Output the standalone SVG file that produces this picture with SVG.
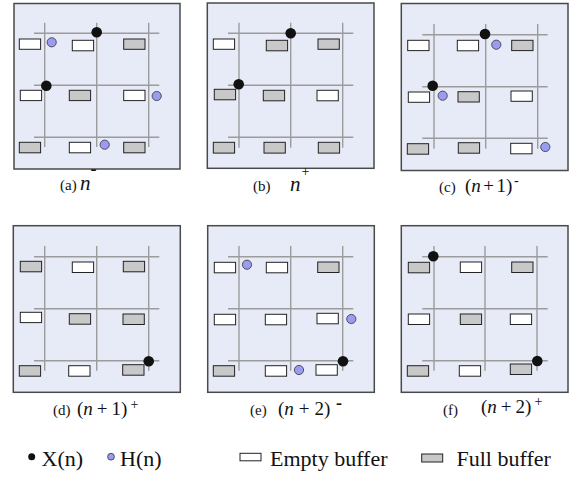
<svg xmlns="http://www.w3.org/2000/svg" width="580" height="477" viewBox="0 0 580 477">
<style>
.bg{fill:#e7ebf7;stroke:#4a4a4a;stroke-width:1.5}
.g line{stroke:#9c9c9c;stroke-width:1.4}
.e{fill:#ffffff;stroke:#222;stroke-width:1}
.f{fill:#c8c8c8;stroke:#222;stroke-width:1}
.x{fill:#111}
.h{fill:#9b9bf2;stroke:#333;stroke-width:0.8}
text{font-family:"Liberation Serif","Times New Roman",serif;fill:#111}
.lb{font-size:15px}
.m{font-size:19px}
.i{font-style:italic}
.lg{font-size:22px}
.sp{font-size:14px}
.sm{font-size:18px;font-weight:bold}
</style>

<g id="panel-a">
<rect class="bg" x="14" y="3.5" width="166" height="165.5"/>
<g class="g">
<line x1="44.7" y1="22.7" x2="44.7" y2="147"/><line x1="96.7" y1="22.7" x2="96.7" y2="147"/><line x1="148.7" y1="22.7" x2="148.7" y2="147"/>
<line x1="34" y1="33.3" x2="159.3" y2="33.3"/><line x1="34" y1="85.3" x2="159.3" y2="85.3"/><line x1="34" y1="137.3" x2="159.3" y2="137.3"/>
</g>
<rect class="e" x="19.3" y="39" width="21.3" height="10.3"/><rect class="e" x="72.3" y="40.3" width="21.3" height="10.5"/><rect class="f" x="123.7" y="39" width="21.3" height="10.3"/>
<rect class="e" x="20.3" y="90.3" width="21.3" height="10.3"/><rect class="f" x="69.3" y="90.3" width="21.3" height="10.3"/><rect class="e" x="123.7" y="90.3" width="21.3" height="10.3"/>
<rect class="f" x="19.3" y="142.3" width="21.3" height="10.5"/><rect class="e" x="69.3" y="142.3" width="21.3" height="10.5"/><rect class="f" x="123.7" y="142.3" width="21.3" height="10.5"/>
<circle class="h" cx="51.7" cy="42.3" r="4.6"/><circle class="h" cx="156.7" cy="96" r="4.6"/><circle class="h" cx="104.7" cy="144.7" r="4.6"/>
<circle class="x" cx="96.7" cy="32.3" r="5.3"/><circle class="x" cx="46.3" cy="85.7" r="5.3"/>
<text class="lb" x="60" y="190">(a)</text>
<text class="i" x="80" y="190" font-size="21">n</text>
<text class="sm" x="90.5" y="175">-</text>
</g>

<g id="panel-b">
<rect class="bg" x="207.3" y="3" width="166.7" height="165.3"/>
<g class="g">
<line x1="239" y1="22.7" x2="239" y2="147.7"/><line x1="290.7" y1="22.7" x2="290.7" y2="147.7"/><line x1="342.7" y1="22.7" x2="342.7" y2="147.7"/>
<line x1="228" y1="33.3" x2="353.3" y2="33.3"/><line x1="228" y1="85.3" x2="353.3" y2="85.3"/><line x1="228" y1="137.3" x2="353.3" y2="137.3"/>
</g>
<rect class="e" x="213.3" y="39" width="21.3" height="10.3"/><rect class="f" x="266.3" y="40.3" width="21.3" height="10.5"/><rect class="f" x="318" y="39" width="21.3" height="10.3"/>
<rect class="f" x="214.3" y="89.3" width="21.3" height="10.5"/><rect class="f" x="263.3" y="90.3" width="21.3" height="10.5"/><rect class="e" x="317" y="90.3" width="21.3" height="10.5"/>
<rect class="f" x="213.3" y="142.3" width="21.3" height="10.8"/><rect class="f" x="264" y="142.3" width="21.3" height="10.8"/><rect class="f" x="318.3" y="142.3" width="21.3" height="10.8"/>
<circle class="x" cx="290.7" cy="33.3" r="5.3"/><circle class="x" cx="238.7" cy="84.3" r="5.3"/>
<text class="lb" x="253" y="191">(b)</text>
<text class="i" x="290" y="191" font-size="21">n</text>
<text class="sp" x="301.5" y="175.5">+</text>
</g>

<g id="panel-c">
<rect class="bg" x="401.3" y="3.5" width="166.7" height="167"/>
<g class="g">
<line x1="434" y1="24" x2="434" y2="148.7"/><line x1="485.7" y1="24" x2="485.7" y2="148.7"/><line x1="537.7" y1="24" x2="537.7" y2="148.7"/>
<line x1="422.3" y1="34.7" x2="547.7" y2="34.7"/><line x1="422.3" y1="86.7" x2="547.7" y2="86.7"/><line x1="422.3" y1="138.3" x2="547.7" y2="138.3"/>
</g>
<rect class="e" x="407.7" y="40.3" width="21.3" height="10.3"/><rect class="e" x="457.3" y="40.3" width="21.3" height="10.5"/><rect class="f" x="511.7" y="40.3" width="21.3" height="10.3"/>
<rect class="e" x="408.3" y="92" width="21.3" height="10.3"/><rect class="f" x="458" y="91.7" width="21.3" height="10.3"/><rect class="e" x="511" y="91" width="21.3" height="10.3"/>
<rect class="f" x="407.3" y="143.7" width="21.3" height="10.5"/><rect class="f" x="458.3" y="142.7" width="21.3" height="10.5"/><rect class="e" x="510.7" y="143.3" width="21.3" height="10.5"/>
<circle class="h" cx="496.3" cy="44.7" r="4.6"/><circle class="h" cx="442.7" cy="95.7" r="4.6"/><circle class="h" cx="545.3" cy="147" r="4.6"/>
<circle class="x" cx="485" cy="34" r="5.3"/><circle class="x" cx="432.7" cy="85.7" r="5.3"/>
<text class="lb" x="439" y="192">(c)</text>
<text class="m" x="465" y="192">(<tspan class="i">n</tspan><tspan dx="2.5">+</tspan><tspan dx="2.5">1)</tspan></text>
<text x="514" y="185" font-size="14">-</text>
</g>

<g id="panel-d">
<rect class="bg" x="13.3" y="225.7" width="167" height="166.6"/>
<g class="g">
<line x1="44.7" y1="246" x2="44.7" y2="370.7"/><line x1="96.7" y1="246" x2="96.7" y2="370.7"/><line x1="148.7" y1="246" x2="148.7" y2="370.7"/>
<line x1="34" y1="256.7" x2="159.3" y2="256.7"/><line x1="34" y1="308.7" x2="159.3" y2="308.7"/><line x1="34" y1="360.7" x2="159.3" y2="360.7"/>
</g>
<rect class="f" x="20.3" y="261.3" width="21.3" height="10.5"/><rect class="e" x="72.3" y="262" width="21.3" height="10.5"/><rect class="f" x="123.3" y="261.3" width="21.3" height="10.5"/>
<rect class="e" x="20.3" y="312.3" width="21.3" height="10.3"/><rect class="f" x="69.3" y="313.7" width="21.3" height="10.5"/><rect class="f" x="123" y="314" width="21.3" height="10.5"/>
<rect class="f" x="19.3" y="365.7" width="21.3" height="10.5"/><rect class="e" x="68.7" y="365.7" width="21.3" height="10.5"/><rect class="f" x="122.7" y="364.7" width="21.3" height="10.5"/>
<circle class="x" cx="148.7" cy="361.3" r="5.3"/>
<text class="lb" x="53" y="415">(d)</text>
<text class="m" x="77" y="415">(<tspan class="i">n</tspan><tspan dx="4">+</tspan><tspan dx="4">1)</tspan></text>
<text class="sp" x="130.5" y="409">+</text>
</g>

<g id="panel-e">
<rect class="bg" x="207.7" y="225.7" width="166.6" height="166.6"/>
<g class="g">
<line x1="239" y1="246" x2="239" y2="370.7"/><line x1="290.7" y1="246" x2="290.7" y2="370.7"/><line x1="342.7" y1="246" x2="342.7" y2="370.7"/>
<line x1="228" y1="256.7" x2="353.3" y2="256.7"/><line x1="228" y1="308.7" x2="353.3" y2="308.7"/><line x1="228" y1="360.7" x2="353.3" y2="360.7"/>
</g>
<rect class="e" x="214.3" y="262.3" width="21.3" height="10.5"/><rect class="e" x="266.3" y="262.3" width="21.3" height="10.5"/><rect class="f" x="317.7" y="262" width="21.3" height="10.5"/>
<rect class="e" x="214.3" y="314.3" width="21.3" height="10.5"/><rect class="e" x="265.3" y="314.3" width="21.3" height="10.5"/><rect class="e" x="317" y="313.3" width="21.3" height="10.5"/>
<rect class="f" x="213.3" y="365.7" width="21.3" height="10.5"/><rect class="e" x="265.3" y="365.7" width="21.3" height="10.5"/><rect class="e" x="316" y="364.7" width="21.3" height="10.5"/>
<circle class="h" cx="247" cy="264.7" r="4.6"/><circle class="h" cx="351.3" cy="319" r="4.6"/><circle class="h" cx="299" cy="370" r="4.6"/>
<circle class="x" cx="343" cy="361.3" r="5.3"/>
<text class="lb" x="250" y="415">(e)</text>
<text class="m" x="278" y="415" font-size="21">(<tspan class="i">n</tspan><tspan dx="5">+</tspan><tspan dx="5">2)</tspan></text>
<text class="sm" x="336" y="409">-</text>
</g>

<g id="panel-f">
<rect class="bg" x="401.3" y="225.7" width="166.7" height="166.6"/>
<g class="g">
<line x1="434" y1="246" x2="434" y2="370.7"/><line x1="485" y1="246" x2="485" y2="370.7"/><line x1="537" y1="246" x2="537" y2="370.7"/>
<line x1="422.3" y1="256.7" x2="547.7" y2="256.7"/><line x1="422.3" y1="308.7" x2="547.7" y2="308.7"/><line x1="422.3" y1="360.7" x2="547.7" y2="360.7"/>
</g>
<rect class="f" x="408.3" y="262.3" width="21.3" height="10.5"/><rect class="e" x="460.3" y="262" width="21.3" height="10.5"/><rect class="f" x="511.7" y="262" width="21.3" height="10.5"/>
<rect class="e" x="408.3" y="314" width="21.3" height="10.5"/><rect class="f" x="460.3" y="314" width="21.3" height="10.5"/><rect class="e" x="510.3" y="314" width="21.3" height="10.5"/>
<rect class="f" x="407.3" y="365.7" width="21.3" height="10.5"/><rect class="e" x="459.3" y="365.7" width="21.3" height="10.5"/><rect class="f" x="510.3" y="364" width="21.3" height="10.5"/>
<circle class="x" cx="433.3" cy="256.3" r="5.3"/><circle class="x" cx="537.3" cy="361" r="5.3"/>
<text class="lb" x="443" y="415">(f)</text>
<text class="m" x="481" y="413">(<tspan class="i">n</tspan><tspan dx="4">+</tspan><tspan dx="4">2)</tspan></text>
<text class="sp" x="534.5" y="406">+</text>
</g>

<g id="legend">
<circle class="x" cx="31.7" cy="456.7" r="3.5"/>
<text class="lg" x="41.5" y="466">X(n)</text>
<circle class="h" cx="111" cy="456.7" r="3.4"/>
<text class="lg" x="120" y="466">H(n)</text>
<rect class="e" x="240" y="453.3" width="21" height="7.5"/>
<text class="lg" x="270" y="466">Empty buffer</text>
<rect class="f" x="421.7" y="454" width="21" height="8"/>
<text class="lg" x="456.5" y="466">Full buffer</text>
</g>
</svg>
